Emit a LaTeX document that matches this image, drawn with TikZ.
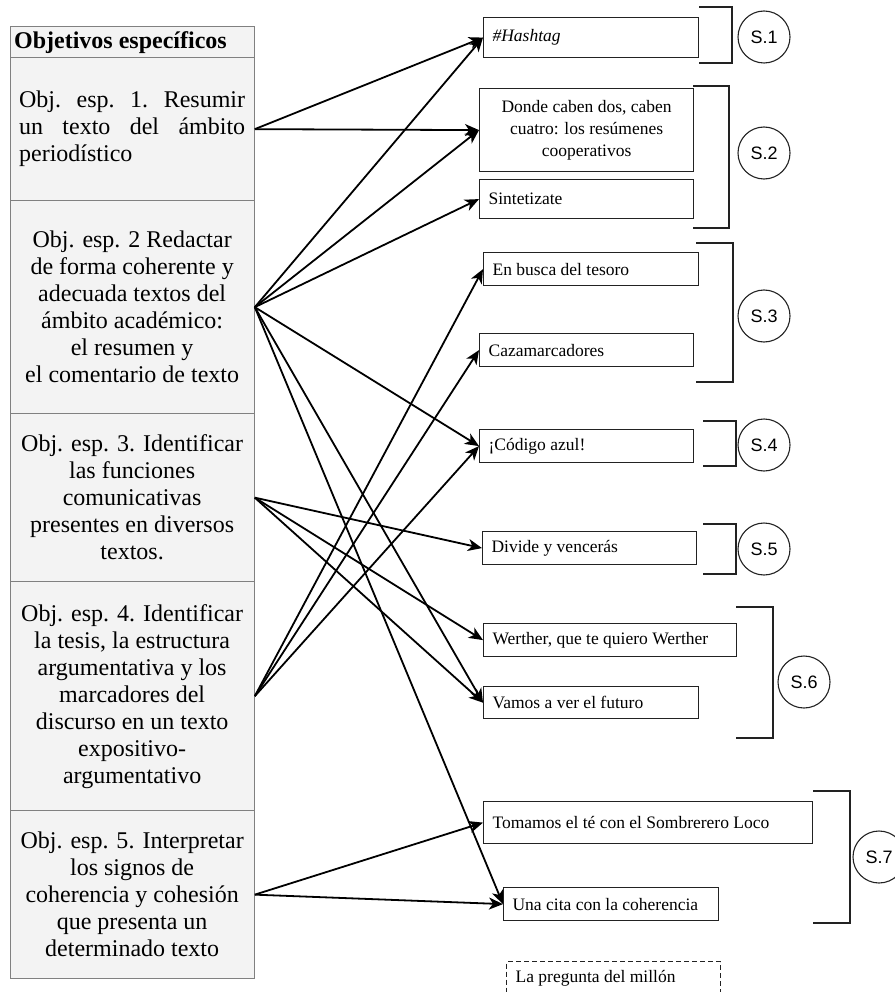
\documentclass[tikz,border=0pt]{standalone}
\usepackage{fontspec}
\setmainfont{Liberation Serif}
\newfontfamily\sansf{Liberation Sans}
\usetikzlibrary{arrows.meta}
\definecolor{tblfill}{HTML}{F3F3F3}
\definecolor{tbldraw}{HTML}{808080}
\definecolor{dk}{HTML}{222222}
\begin{document}
\begin{tikzpicture}[x=1pt,y=-1pt,
  objrow/.style={draw=tbldraw, line width=1.3pt, fill=tblfill, minimum width=244pt,
     inner sep=0pt, font=\fontsize{24}{27}\selectfont, align=flush center, anchor=north west},
  actbox/.style={draw=dk, line width=1.2pt, inner xsep=9pt, inner ysep=0pt,
     font=\fontsize{17.5}{21.7}\selectfont, align=flush left, anchor=north west},
  grp/.style={circle, draw=dk, line width=1.1pt, minimum size=52pt, inner sep=0pt,
     font=\sansf\fontsize{18}{20}\selectfont},
  brk/.style={draw=dk, line width=2.6pt},
  conn/.style={draw=black, line width=1.8pt, -{Stealth[length=14pt,width=12pt,inset=4pt]}}
]
\useasboundingbox (0,0) rectangle (894,992);

% left table
\node[objrow, minimum height=31pt, text width=236pt, inner xsep=4pt, align=flush left] (hdr) at (9.5,26)
  {\textbf{Objetivos específicos}};
\node[objrow, minimum height=143pt] (o1) at (9.5,57)
  {\makebox[226pt][s]{Obj. esp. 1. Resumir}\\\makebox[226pt][s]{un texto del ámbito}\\\makebox[226pt][l]{periodístico}};
\node[objrow, minimum height=213pt] (o2) at (9.5,200)
  {Obj. esp. 2 Redactar\\de forma coherente y\\adecuada textos del\\ámbito académico:\\el resumen y\\el comentario de texto};
\node[objrow, minimum height=168pt] (o3) at (9.5,413)
  {Obj. esp. 3. Identificar\\las funciones\\comunicativas\\presentes en diversos\\textos.};
\node[objrow, minimum height=229pt] (o4) at (9.5,581)
  {Obj. esp. 4. Identificar\\la tesis, la estructura\\argumentativa y los\\marcadores del\\discurso en un texto\\expositivo-\\argumentativo};
\node[objrow, minimum height=168pt] (o5) at (9.5,810)
  {Obj. esp. 5. Interpretar\\los signos de\\coherencia y cohesión\\que presenta un\\determinado texto};

% activity boxes
\node[actbox, text width=197pt, minimum height=40pt] (hash) at (483,17) {\textit{\#Hashtag}};
\node[actbox, text width=196pt, minimum height=83pt, align=flush center] (donde) at (479,88)
  {Donde caben dos, caben\\cuatro: los resúmenes\\cooperativos};
\node[actbox, text width=196pt, minimum height=39pt] (sint) at (479,179) {Sintetizate};
\node[actbox, text width=197pt, minimum height=33pt] (busca) at (483,252) {En busca del tesoro};
\node[actbox, text width=196pt, minimum height=33pt] (caza) at (479,333) {Cazamarcadores};
\node[actbox, text width=196pt, minimum height=33pt] (cod) at (479,429) {¡Código azul!};
\node[actbox, text width=196pt, minimum height=33pt] (divide) at (482,531) {Divide y vencerás};
\node[actbox, text width=235pt, minimum height=33pt] (werther) at (483,623) {Werther, que te quiero Werther};
\node[actbox, text width=197pt, minimum height=32pt] (vamos) at (483,686) {Vamos a ver el futuro};
\node[actbox, text width=311pt, minimum height=42pt] (tomamos) at (483,801) {Tomamos el té con el Sombrerero Loco};
\node[actbox, text width=197pt, minimum height=33pt] (cita) at (503,887) {Una cita con la coherencia};
\node[actbox, text width=196pt, minimum height=34pt, line width=1.2pt, dash pattern=on 5pt off 3pt] (preg) at (506,961) {La pregunta del millón};

% brackets
\draw[brk] (699,7) -- (732,7) -- (732,63) -- (699,63);
\draw[brk] (693,86) -- (729,86) -- (729,228) -- (693,228);
\draw[brk] (696,243) -- (733,243) -- (733,382) -- (696,382);
\draw[brk] (703,421) -- (736,421) -- (736,466) -- (703,466);
\draw[brk] (703,524) -- (736,524) -- (736,574) -- (703,574);
\draw[brk] (736,607) -- (773,607) -- (773,738) -- (736,738);
\draw[brk] (813,791) -- (850,791) -- (850,923) -- (813,923);

% group circles
\node[grp] (s1) at (764,37) {S.1};
\node[grp] (s2) at (764,153) {S.2};
\node[grp] (s3) at (764,316) {S.3};
\node[grp] (s4) at (764,445) {S.4};
\node[grp] (s5) at (764,549) {S.5};
\node[grp] (s6) at (804,682) {S.6};
\node[grp] (s7) at (879,857) {S.7};

% connectors
\draw[conn] (o1.east) -- (hash.west);
\draw[conn] (o1.east) -- (donde.west);
\draw[conn] (o2.east) -- (hash.west);
\draw[conn] (o2.east) -- (donde.west);
\draw[conn] (o2.east) -- (sint.west);
\draw[conn] (o2.east) -- (cod.west);
\draw[conn] (o2.east) -- (vamos.west);
\draw[conn] (o2.east) -- (cita.west);
\draw[conn] (o3.east) -- (divide.west);
\draw[conn] (o3.east) -- (werther.west);
\draw[conn] (o3.east) -- (vamos.west);
\draw[conn] (o4.east) -- (busca.west);
\draw[conn] (o4.east) -- (caza.west);
\draw[conn] (o4.east) -- (cod.west);
\draw[conn] (o5.east) -- (tomamos.west);
\draw[conn] (o5.east) -- (cita.west);
\end{tikzpicture}
\end{document}
